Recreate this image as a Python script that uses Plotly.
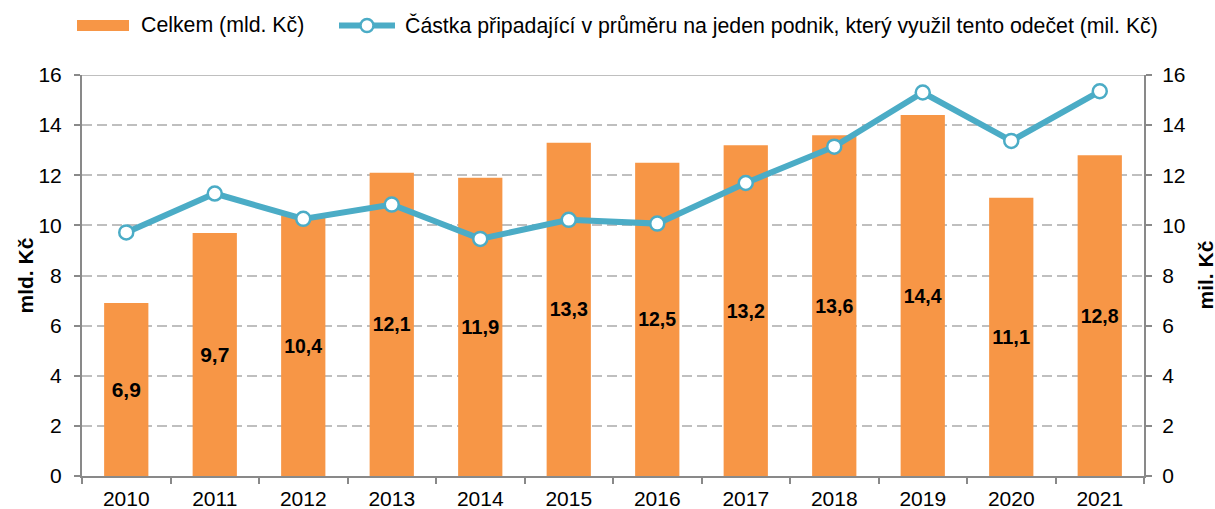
import plotly.graph_objects as go

YEARS = ["2010", "2011", "2012", "2013", "2014", "2015",
         "2016", "2017", "2018", "2019", "2020", "2021"]
CELKEM = [6.9, 9.7, 10.4, 12.1, 11.9, 13.3, 12.5, 13.2, 13.6, 14.4, 11.1, 12.8]
PRUMER = [9.72, 11.27, 10.26, 10.83, 9.46, 10.22, 10.07, 11.69, 13.14, 15.30, 13.37, 15.35]
NAME_BAR  = "Celkem (mld. Kč)"
NAME_LINE = "Částka připadající v průměru na jeden podnik, který využil tento odečet (mil. Kč)"

ORANGE = "#F79646"
BLUE   = "#4BACC6"
GRID   = "#BFBFBF"
AXIS   = "#898989"
FONT   = "Liberation Sans, Arial, sans-serif"
FS     = 21

# plot area in pixels (for placing the hand-made legend)
L, R, T, B = 82, 1144, 75, 476


def fx(px):
    return (px - L) / (R - L)


def fy(py):
    return (B - py) / (B - T)


fig = go.Figure()

fig.add_trace(go.Bar(
    x=YEARS, y=CELKEM,
    name=NAME_BAR,
    marker=dict(color=ORANGE, line=dict(width=0)),
    width=0.5,
    text=[f"{v:.1f}".replace(".", ",") for v in CELKEM],
    textposition="inside", insidetextanchor="middle",
    textfont=dict(size=FS, color="black", family=FONT, weight="bold"),
    textangle=0,
))

fig.add_trace(go.Scatter(
    x=YEARS, y=PRUMER,
    name=NAME_LINE,
    mode="lines+markers",
    yaxis="y2",
    line=dict(color=BLUE, width=6),
    marker=dict(color="white", size=14, line=dict(color=BLUE, width=2.5)),
))

fig.add_shape(type="line", xref="paper", yref="y", x0=0, x1=1, y0=16, y1=16,
              line=dict(color=GRID, width=2), layer="below")

# legend drawn by hand to match the spacing of the original
ly = fy(25.5)
fig.add_shape(type="rect", xref="paper", yref="paper",
              x0=fx(77), x1=fx(129), y0=fy(31), y1=fy(20),
              fillcolor=ORANGE, line=dict(width=0))
fig.add_shape(type="line", xref="paper", yref="paper",
              x0=fx(339), x1=fx(395), y0=ly, y1=ly,
              line=dict(color=BLUE, width=6))
fig.add_shape(type="circle", xref="paper", yref="paper",
              xsizemode="pixel", ysizemode="pixel", xanchor=fx(367), yanchor=ly,
              x0=-6.5, x1=6.5, y0=-6.5, y1=6.5,
              fillcolor="white", line=dict(color=BLUE, width=2.5))
fig.add_annotation(text=NAME_BAR, xref="paper", yref="paper", x=fx(139), y=ly,
                   xanchor="left", yanchor="middle", showarrow=False,
                   font=dict(size=21.3))
fig.add_annotation(text=NAME_LINE, xref="paper", yref="paper", x=fx(403), y=ly,
                   xanchor="left", yanchor="middle", showarrow=False,
                   font=dict(size=21.3))

# axis titles as rotated annotations
fig.add_annotation(text="<b>mld. Kč</b>", xref="paper", yref="paper", x=fx(25), y=0.5,
                   xanchor="center", yanchor="middle", textangle=-90, showarrow=False,
                   font=dict(size=FS))
fig.add_annotation(text="<b>mil. Kč</b>", xref="paper", yref="paper", x=fx(1205), y=0.5,
                   xanchor="center", yanchor="middle", textangle=-90, showarrow=False,
                   font=dict(size=FS))

fig.update_layout(
    width=1215, height=509,
    paper_bgcolor="white", plot_bgcolor="white",
    font=dict(family=FONT, size=FS, color="black"),
    margin=dict(l=L, r=1215 - R, t=T, b=509 - B),
    showlegend=False,
    xaxis=dict(range=[-0.5, 11.5], showgrid=False, showline=True, linecolor=AXIS,
               linewidth=2, ticks="outside", tickson="boundaries", ticklen=6,
               tickcolor=AXIS, tickwidth=2, tickfont=dict(size=FS), automargin=False,
               ticklabelstandoff=3),
    yaxis=dict(range=[0, 16], dtick=2, showgrid=True, gridcolor=GRID, griddash="10px,5px",
               gridwidth=2, showline=True, linecolor=AXIS, linewidth=2,
               ticks="outside", ticklen=6, tickcolor=AXIS, tickwidth=2,
               zeroline=False, tickfont=dict(size=FS), automargin=False,
               ticklabelstandoff=8),
    yaxis2=dict(range=[0, 16], dtick=2, overlaying="y", side="right", showgrid=False,
                showline=True, linecolor=AXIS, linewidth=2,
                ticks="outside", ticklen=6, tickcolor=AXIS, tickwidth=2,
                zeroline=False, tickfont=dict(size=FS), automargin=False,
                ticklabelstandoff=6),
)

# drop the browser's default body margin so the figure sits at the window's corner
fig.write_html("out.html", config={"displayModeBar": False},
               post_script="document.body.style.margin='0';")
